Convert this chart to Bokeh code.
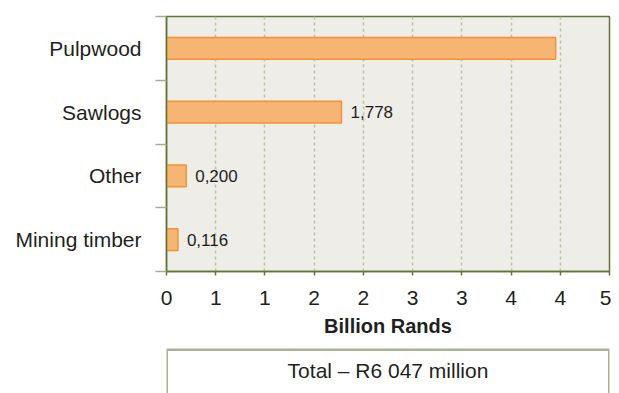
from bokeh.plotting import figure
from bokeh.models import ColumnDataSource, FixedTicker, Range1d
from bokeh.layouts import column
from bokeh.embed import file_html
from bokeh.resources import INLINE
from bokeh.core.properties import value

# ---- data ----
categories = ["Pulpwood", "Sawlogs", "Other", "Mining timber"]
values_bn = [3.953, 1.778, 0.200, 0.116]          # billion rands
value_labels = ["", "1,778", "0,200", "0,116"]
x_ticks = [0, 0.5, 1, 1.5, 2, 2.5, 3, 3.5, 4, 4.5]
x_tick_labels = ["0", "1", "1", "2", "2", "3", "3", "4", "4", "5"]
x_title = "Billion Rands"
total_text = "Total \u2013 R6 047 million"

FONT = "Liberation Sans"
TXT = "#231F20"
AXIS = "#5F7636"
TICK_LIGHT = "#A3AE8A"

n = len(categories)
ypos = [n - 0.5 - i for i in range(n)]
src = ColumnDataSource(dict(y=ypos, v=values_bn, lab=value_labels, cat=categories))

p = figure(width=611, height=348, output_backend="svg", toolbar_location=None,
           x_range=Range1d(0, 4.5), y_range=Range1d(0, n),
           min_border_left=166, min_border_right=2, min_border_top=16, min_border_bottom=77)
p.background_fill_color = "#EEEDE8"
p.border_fill_color = "white"
p.outline_line_color = AXIS
p.outline_line_width = 1.5

p.hbar(y="y", left=0, right="v", height=0.345, source=src,
       fill_color="#F7B573", line_color="#F39233", line_width=1.5)
p.text(x="v", y="y", text="lab", source=src, x_offset=9,
       text_font=value(FONT), text_font_size="17px", text_color=TXT,
       text_baseline="middle", text_align="left")

# x axis
p.xaxis.ticker = FixedTicker(ticks=x_ticks)
p.xaxis.major_label_overrides = {t: l for t, l in zip(x_ticks, x_tick_labels)}
p.xaxis.minor_tick_line_color = None
p.xaxis.major_tick_in = 0
p.xaxis.major_tick_out = 4
p.xaxis.major_tick_line_color = AXIS
p.xaxis.major_tick_line_width = 1.5
p.xaxis.axis_line_color = AXIS
p.xaxis.axis_line_width = 1.5
p.xaxis.major_label_text_font = FONT
p.xaxis.major_label_text_font_size = "21px"
p.xaxis.major_label_text_color = TXT
p.xaxis.major_label_standoff = 15
p.xaxis.axis_label = x_title
p.xaxis.axis_label_text_font = FONT
p.xaxis.axis_label_text_font_size = "20px"
p.xaxis.axis_label_text_font_style = "bold"
p.xaxis.axis_label_text_color = TXT
p.xaxis.axis_label_standoff = 7

# y axis: labels at category centres, ticks at boundaries
p.yaxis.ticker = FixedTicker(ticks=ypos, minor_ticks=list(range(n + 1)))
p.yaxis.major_label_overrides = {y: c for y, c in zip(ypos, categories)}
p.yaxis.major_tick_line_color = None
p.yaxis.major_tick_in = 0
p.yaxis.major_tick_out = 11
p.yaxis.minor_tick_in = 0
p.yaxis.minor_tick_out = 11
p.yaxis.minor_tick_line_color = TICK_LIGHT
p.yaxis.minor_tick_line_width = 1.5
p.yaxis.axis_line_color = AXIS
p.yaxis.axis_line_width = 1.5
p.yaxis.major_label_text_font = FONT
p.yaxis.major_label_text_font_size = "21px"
p.yaxis.major_label_text_color = TXT
p.yaxis.major_label_standoff = 14

p.xgrid.ticker = FixedTicker(ticks=x_ticks)
p.xgrid.grid_line_color = "#BFC3A2"
p.xgrid.grid_line_dash = "3 3"
p.xgrid.grid_line_width = 1.5
p.ygrid.grid_line_color = None

# total box (its frame is aligned with the chart frame by the column layout)
p2 = figure(width=611, height=45, output_backend="svg", toolbar_location=None,
            x_range=Range1d(0, 1), y_range=Range1d(0, 45),
            min_border_left=166, min_border_right=2,
            min_border_top=0, min_border_bottom=0)
p2.axis.visible = False
p2.grid.visible = False
p2.outline_line_color = None
p2.background_fill_color = "white"
p2.border_fill_color = "white"
p2.quad(left=[0], right=[1], top=[44], bottom=[-10],
        fill_color=None, line_color="#A9B493", line_width=3)
p2.text(x=[0.5], y=[23.5], text=[total_text], text_font=value(FONT),
        text_font_size="21px", text_color=TXT, text_align="center",
        text_baseline="alphabetic")

layout = column(p, p2, spacing=0)
open("out.html", "w").write(file_html(layout, INLINE))
